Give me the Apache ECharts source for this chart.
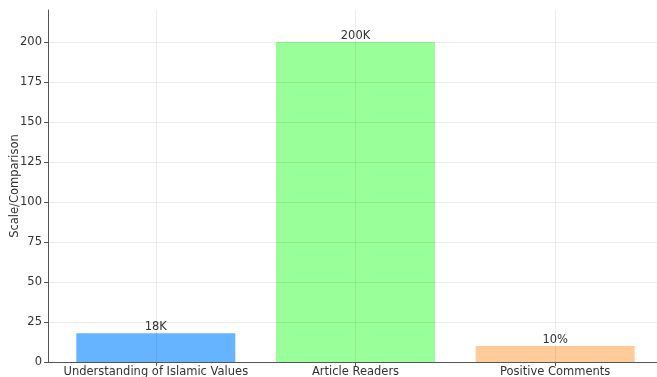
<!DOCTYPE html>
<html>
<head>
<meta charset="utf-8">
<script src="https://cdn.jsdelivr.net/npm/echarts@6/dist/echarts.min.js"></script>
<style>
html,body{margin:0;padding:0;background:#fff;}
#chart{width:657px;height:377px;}
</style>
</head>
<body>
<div id="chart"></div>
<script>
const categories = ['Understanding of Islamic Values', 'Article Readers', 'Positive Comments'];
const values = [18, 200, 10];
const valueLabels = ['18K', '200K', '10%'];
const colors = ['#66b3ff', '#99ff99', '#ffcc99'];
const yTicks = [0, 25, 50, 75, 100, 125, 150, 175, 200];
const yAxisTitle = 'Scale/Comparison';

const chart = echarts.init(document.getElementById('chart'), null, {renderer: 'canvas'});
const font = 'DejaVu Sans';
const fs = 11.5;
const catIdx = categories.map((c, i) => i);

chart.setOption({
  animation: false,
  backgroundColor: '#fff',
  textStyle: {fontFamily: font},
  grid: {left: 48, right: 0, top: 10, bottom: 15, containLabel: false, outerBoundsMode: 'none'},
  xAxis: {
    type: 'value',
    min: -0.54,
    max: 2.51,
    z: 5,
    axisLine: {show: true, onZero: false, lineStyle: {color: '#555', width: 1}},
    axisTick: {show: true, customValues: catIdx, length: 4, lineStyle: {color: '#555'}},
    axisLabel: {
      customValues: catIdx,
      formatter: v => categories[Math.round(v)] ?? '',
      color: '#333', fontSize: fs, fontFamily: font, margin: 4
    },
    splitLine: {show: true, lineStyle: {color: 'rgba(0,0,0,0.08)', width: 1}}
  },
  yAxis: {
    type: 'value',
    min: 0,
    max: 220,
    z: 5,
    name: yAxisTitle,
    nameLocation: 'middle',
    nameGap: 27,
    nameMoveOverlap: false,
    nameTextStyle: {color: '#333', fontSize: fs, fontFamily: font},
    axisLine: {show: true, onZero: false, lineStyle: {color: '#555', width: 1}},
    axisTick: {show: true, customValues: yTicks, length: 4, lineStyle: {color: '#555'}},
    axisLabel: {customValues: yTicks, color: '#333', fontSize: fs, fontFamily: font, margin: 6},
    splitLine: {show: true, lineStyle: {color: 'rgba(0,0,0,0.08)', width: 1}}
  },
  series: [{
    type: 'bar',
    barWidth: 159,
    z: 2,
    data: values.map((v, i) => ({value: [i, v], itemStyle: {color: colors[i]}})),
    label: {
      show: true,
      position: 'top',
      distance: 0,
      formatter: p => valueLabels[p.dataIndex],
      color: '#333', fontSize: fs, fontFamily: font
    }
  }]
});
</script>
</body>
</html>
